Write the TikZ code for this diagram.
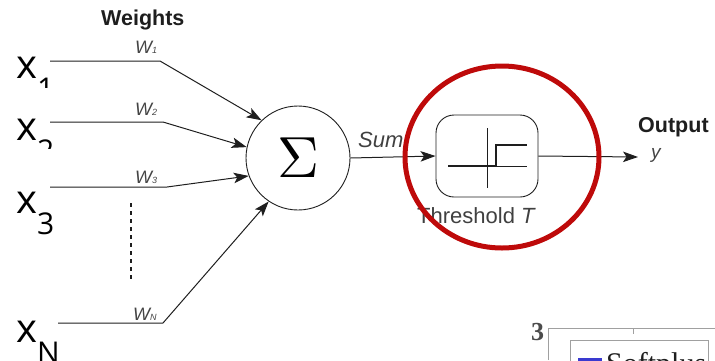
\documentclass[tikz,border=0pt]{standalone}
\usepackage{fontspec}
\setmainfont{Liberation Sans}
\newfontfamily\xfont{Open Sans}
\newfontfamily\serffont{Liberation Serif}
\usetikzlibrary{arrows.meta}
\definecolor{ink}{HTML}{1E1E1E}
\definecolor{wgrey}{HTML}{444444}
\definecolor{redring}{HTML}{BE0A0A}
\definecolor{chartgrey}{HTML}{A0A0A0}
\definecolor{legblue}{HTML}{3A3AD0}
\newcommand{\subx}[1]{\raisebox{-21pt}{\fontsize{30}{30}\selectfont #1}}
\begin{document}
\begin{tikzpicture}[x=1pt,y=-1pt,
  wire/.style={draw=ink, line width=1pt},
  arr/.style={wire, -{Stealth[length=15pt,width=10.5pt,inset=3.5pt]}},
  xlab/.style={font=\xfont\fontsize{40}{40}\selectfont, inner sep=0pt, anchor=base west, text=black},
  wlab/.style={font=\fontsize{18}{18}\selectfont\itshape, text=wgrey, inner sep=0pt, anchor=base west},
  title/.style={font=\fontsize{21.5}{21.5}\selectfont\bfseries, text=ink, inner sep=0pt, anchor=base west},
  plain/.style={font=\fontsize{22}{22}\selectfont, text=ink!85, inner sep=0pt, anchor=base west},
  sumnode/.style={circle, draw=ink, line width=0.9pt, minimum size=104pt, inner sep=0pt},
  threshbox/.style={rectangle, rounded corners=18pt, draw=ink, line width=0.9pt, minimum width=102pt, minimum height=82pt, inner sep=0pt},
  stepthick/.style={draw=ink, line width=2.2pt},
  stepthin/.style={draw=ink, line width=1pt},
  ring/.style={draw=redring, line width=5pt},
  chartline/.style={draw=chartgrey, line width=1pt}
]
\useasboundingbox (0,0) rectangle (715,360);
\begin{scope}
\clip (0,0) rectangle (715,360);

% title
\node[title] (wt) at (101,25) {Weights};

% inputs
\node[xlab] (x1) at (16,78) {x\subx{1}};
\node[xlab] (x2) at (16,140) {x\subx{2}};
\node[xlab] (x3) at (16,213) {x\subx{3}};
\node[xlab] (xn) at (16,342) {x\subx{N}};
% clipped subscripts of x1, x2 as in the picture
\fill[white] (38,88) rectangle (60,104);
\fill[white] (38,149) rectangle (60,166);

% weight labels
\node[wlab] (w1) at (135,53) {W\raisebox{0pt}{\fontsize{9}{9}\selectfont 1}};
\node[wlab] (w2) at (135,115) {W\raisebox{0pt}{\fontsize{9}{9}\selectfont 2}};
\node[wlab] (w3) at (135,183) {W\raisebox{0pt}{\fontsize{9}{9}\selectfont 3}};
\node[wlab] (wn) at (133,320) {W\raisebox{0pt}{\fontsize{9}{9}\selectfont N}};

% summation
\node[sumnode] (sum) at (298,158) {\scalebox{5.8}{$\Sigma$}};

% input wires
\coordinate (s1) at (50,61);  \coordinate (b1) at (160,61);
\coordinate (s2) at (50,122); \coordinate (b2) at (163,122);
\coordinate (s3) at (50,187); \coordinate (b3) at (167,187);
\coordinate (sn) at (58,323); \coordinate (bn) at (163,323);
\draw[arr] (s1) -- (b1) -- (sum.134);
\draw[arr] (s2) -- (b2) -- (sum.168);
\draw[arr] (s3) -- (b3) -- (sum.200);
\draw[arr] (sn) -- (bn) -- (sum.236);

% ellipsis dots
\coordinate (d1) at (131,203); \coordinate (d2) at (131,279);
\draw[draw=ink, line width=1.2pt, dash pattern=on 4pt off 4pt] (d1) -- (d2);

% threshold block
\node[threshbox] (th) at (487,156) {};
\node[plain] (sumlab) at (358,147) {\itshape Sum};
\draw[arr] (sum.east) -- (th.west);
\draw[stepthin] (487,128) -- (487,188);
\draw[stepthin] (496,166) -- (527,166);
\draw[stepthick, line join=miter] (448,166) -- (496,166) -- (496,145) -- (527,145);
\node[plain] (thlab) at (417,223) {Threshold \textit{T}};

% output
\coordinate (yout) at (638,157);
\draw[arr] (th.east) -- (yout);
\node[title] (outlab) at (638,132) {Output};
\node[wlab, font=\fontsize{19}{19}\selectfont\itshape] (ylab) at (651,158) {y};

% highlight ring
\draw[ring] (502,157) ellipse [x radius=97, y radius=91];

% fragment of a neighbouring chart
\node[font=\serffont\bfseries\fontsize{26}{26}\selectfont, text=ink!80, inner sep=0pt, anchor=base west] (three) at (531,340) {3};
\coordinate (fa) at (548,360); \coordinate (fb) at (548,328); \coordinate (fc) at (715,328);
\draw[chartline] (fa) -- (fb) -- (fc);
\draw[chartline] (633,328) -- (633,334);
\draw[chartline] (570,362) -- (570,340) -- (708,340) -- (708,362);
\draw[draw=legblue, line width=3pt] (578,359) -- (602,359);
\node[font=\serffont\fontsize{30}{30}\selectfont, text=ink, inner sep=0pt, anchor=base west] (soft) at (606,373) {Softplus};
\end{scope}
\end{tikzpicture}
\end{document}
